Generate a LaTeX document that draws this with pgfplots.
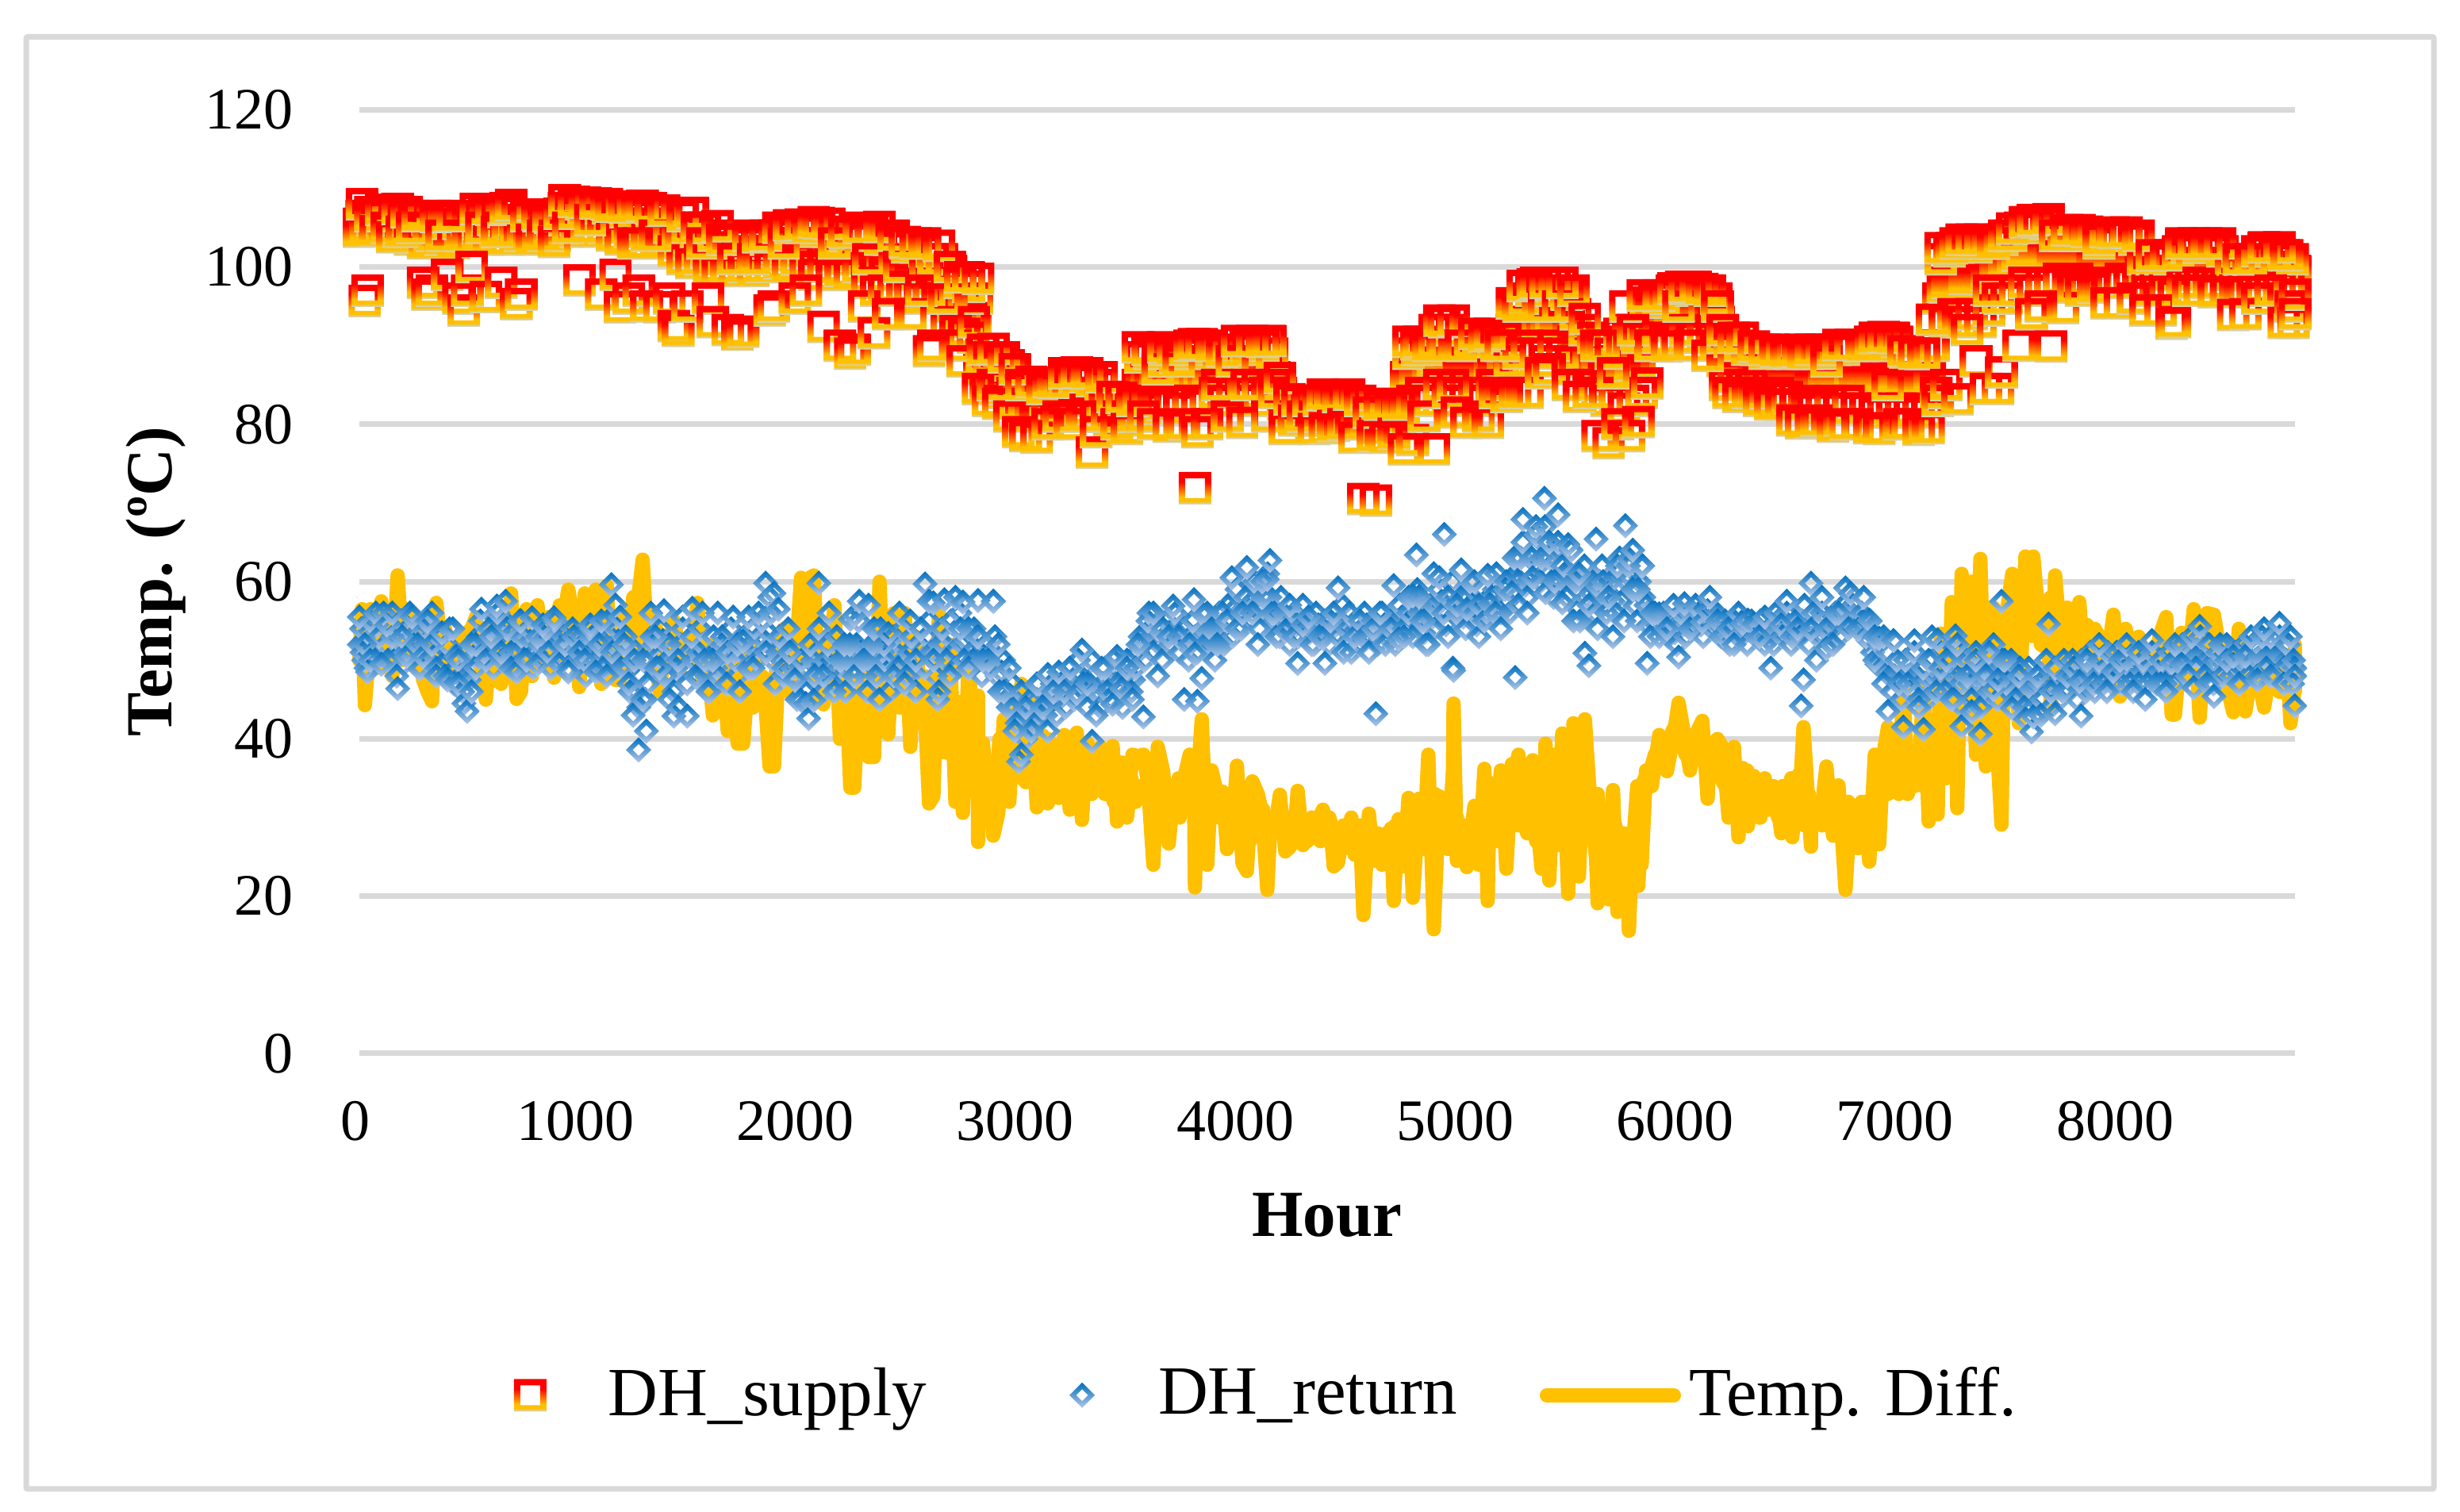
\documentclass[border=0pt]{standalone}
\usepackage{fontspec}
\setmainfont{Liberation Serif}
\usepackage{pgfplots}
\usepackage{pgfplotstable}
\pgfplotsset{compat=1.18}
\definecolor{gridc}{HTML}{D9D9D9}
\definecolor{diffc}{HTML}{FFC000}
\definecolor{gA}{HTML}{C9D8EA}
\definecolor{gB}{HTML}{FFC000}
\definecolor{gC}{HTML}{FF0000}
\definecolor{bA}{HTML}{B4C7E7}
\definecolor{bB}{HTML}{0070C0}
\pgfdeclareverticalshading{supsh}{100bp}{color(0bp)=(gA);color(25bp)=(gA);color(30bp)=(gB);color(36bp)=(gB);color(60bp)=(gC);color(75bp)=(gC);color(100bp)=(gC)}
\pgfdeclareverticalshading{retsh}{100bp}{color(0bp)=(bA);color(25bp)=(bA);color(75bp)=(bB);color(100bp)=(bB)}
\pgfdeclareplotmark{sup}{%
  \pgfsetcornersarced{\pgfpoint{1.5pt}{1.5pt}}%
  \pgfpathrectangle{\pgfpoint{-10.25pt}{-10.25pt}}{\pgfpoint{20.5pt}{20.5pt}}%
  \pgfsetcornersarced{\pgfpointorigin}%
  \pgfpathrectangle{\pgfpoint{-6.25pt}{-6.25pt}}{\pgfpoint{12.5pt}{12.5pt}}%
  \pgfseteorule
  \pgfshadepath{supsh}{0}%
  \pgfusepath{discard}%
}
\pgfdeclareplotmark{ret}{%
  \pgfpathmoveto{\pgfpoint{0pt}{8pt}}\pgfpathlineto{\pgfpoint{8pt}{0pt}}%
  \pgfpathlineto{\pgfpoint{0pt}{-8pt}}\pgfpathlineto{\pgfpoint{-8pt}{0pt}}\pgfpathclose
  \pgfpathmoveto{\pgfpoint{0pt}{3.75pt}}\pgfpathlineto{\pgfpoint{3.75pt}{0pt}}%
  \pgfpathlineto{\pgfpoint{0pt}{-3.75pt}}\pgfpathlineto{\pgfpoint{-3.75pt}{0pt}}\pgfpathclose
  \pgfseteorule
  \pgfshadepath{retsh}{0}%
  \pgfusepath{discard}%
}
\pgfplotsset{
  supleg/.style={legend image code/.code={\draw[mark repeat=2,mark phase=2,##1] plot coordinates {(0pt,-1.5pt)(10pt,-1.5pt)(20pt,-1.5pt)};}},
  retleg/.style={legend image code/.code={\draw[mark repeat=2,mark phase=2,##1] plot coordinates {(0pt,-1.5pt)(8pt,-1.5pt)(16pt,-1.5pt)};}},
  difleg/.style={legend image code/.code={\draw[##1] (4.4pt,-1.5pt) -- (84.6pt,-1.5pt);}},
}
\pgfplotstableread{
h s r
0 105.5 52
20 106 50
40 105 53.5
60 106 51
80 105.5 54.5
100 106 49.5
120 105.5 52
140 106 54.5
160 105 50
180 105.5 52.5
200 105 49.5
220 106 54
240 104.5 51
260 105.5 53.5
280 104 49
300 105.5 52
320 104 54.5
340 105.5 50.5
360 104.5 53
380 105.5 49.5
400 104.5 52
420 105 48.5
440 104.5 50.5
460 105 48
480 104 51
500 105 47.5
520 105 50.5
540 105.5 53
560 104.5 50
580 105.5 52.5
600 105 54
620 105.5 51
640 105 53.5
660 105.5 55
680 105 52
700 105.5 53.5
720 104.5 51
740 105 53
760 105 50.5
780 105.5 52.5
800 105 51
820 105.5 52
840 105 53
860 105.5 51
880 105 53
900 105.5 52
920 105.5 50.5
940 106 52
960 106 51
980 106.5 52
1000 106 50.5
1020 106.5 52
1040 106 50.5
1060 106.5 53
1080 106 51
1100 106.5 52.5
1120 106 50.5
1140 106 53
1160 105.5 52
1180 105 52.5
1200 105.5 50.5
1220 105.5 49
1240 105 51.5
1260 105 46
1280 105 48
1300 105.5 45
1320 105.5 50
1340 105 52
1360 105 50.5
1380 104.5 52.5
1400 104 50
1420 103.5 48
1440 103 49
1460 103 52
1480 102.5 49
1500 103 51
1520 102.5 50
1540 102.5 51
1560 102.5 52
1580 102 48
1600 102.5 50.5
1620 101.5 49
1640 101.5 50.5
1660 101.5 49
1680 102 52
1700 101 51
1720 101.5 48
1740 101.5 51
1760 101 51
1780 101.5 52
1800 101 51.5
1820 101.5 53
1840 102 52.5
1860 101.5 53.5
1880 102 50
1900 102.5 51
1920 102 50
1940 102.5 52
1960 102 51
1980 103 48
2000 103 47.5
2020 102.5 48.5
2040 102.5 49
2060 102 50
2080 102.5 51
2100 102.5 49
2120 102 50
2140 101.5 49
2160 102 50.5
2180 101.5 49
2200 101.5 48
2220 101 50
2240 101.5 50
2260 101.5 52
2280 101.5 51
2300 101 48
2320 101 50
2340 100.5 50
2360 100.5 52
2380 101 51
2400 100.5 48.5
2420 100.5 51
2440 100 51
2460 100 52
2480 99.5 50
2500 99.5 51
2520 99.5 48.5
2540 99 52
2560 99 51.5
2580 99 53
2600 99 51
2620 98.5 48
2640 98.5 52
2660 96 52
2680 96.5 53
2700 95 51
2720 95.5 54
2740 94 52
2760 94.5 52.5
2780 93 51
2800 93.5 51.5
2820 87 50
2840 87 50.5
2860 86.5 50
2880 86.5 51
2900 86.5 48
2920 86 48.5
2940 85.5 46
2960 85.5 45.5
2980 83.5 44
3000 83 43
3020 83.5 43
3040 83.5 43.5
3060 83 43
3080 83 45
3100 83 43
3120 83 43
3140 83.5 45
3160 83 45
3180 83 45
3200 83.5 46
3220 83.5 46.5
3240 83.5 47
3260 84 48
3280 83.5 48
3300 84 46
3320 83 47
3340 83.5 48
3360 83 46
3380 82.5 47
3400 82 47
3420 81.5 47.5
3440 82 48.5
3460 81.5 46
3480 82 48
3500 81.5 47.5
3520 82 47.5
3540 85 51
3560 85.5 52
3580 86 53.5
3600 85.5 53
3620 86 52.5
3640 85.5 52
3660 86.5 53
3680 85.5 53.5
3700 86 54
3720 85.5 53
3740 86.5 52.5
3760 86 52
3780 86.5 53
3800 86 53
3820 86.5 53.5
3840 86 54
3860 86.5 52.5
3880 86.5 52
3900 86.5 54
3920 86 54
3940 86.5 55
3960 86.5 55
3980 87 56.5
4000 86.5 56
4020 87 56
4040 87 56.5
4060 87 57.5
4080 86.5 56.5
4100 87 56.5
4120 87 58.5
4140 87 58
4160 86 55
4180 84 55
4200 82.5 56
4220 82 54
4240 82 54
4260 82 54.5
4280 81.5 55
4300 82 54
4320 82 53.5
4340 82 54
4360 81.5 54.5
4380 82 54
4400 82 53.5
4420 82 54
4440 81.5 54.5
4460 82 55
4480 82 54
4500 81.5 52.5
4520 82 53.5
4540 81.5 53.5
4560 81 54
4580 81 54.5
4600 81 54
4620 81 53.5
4640 81 54
4660 81 54.5
4680 81 54
4700 81 53.5
4720 81 55
4740 81 55.5
4760 86 54.5
4780 86 54.5
4800 86.5 57
4820 86.5 56
4840 86.5 53.5
4860 87 55.5
4880 88 55.5
4900 88.5 57
4920 88 57.5
4940 88 54.5
4960 88 58
4980 88 57
5000 87 56.5
5020 87 55.5
5040 87 58
5060 87 57
5080 87 54.5
5100 87 57
5120 87 57.5
5140 87.5 57
5160 87 59
5180 87 58.5
5200 88 57.5
5220 90 57.5
5240 92 60.5
5260 92 60.5
5280 92.5 63
5300 93 59.5
5320 93 60
5340 93 64
5360 93 62
5380 92.5 65
5400 93 61.5
5420 93.5 60
5440 93 64
5460 93 60
5480 93 61
5500 92.5 61
5520 90.5 60
5540 90 56.5
5560 88.5 60
5580 88 58
5600 88 58.5
5620 87.5 56
5640 87.5 60
5660 86.5 58
5680 86 58.5
5700 86 57.5
5720 87 61
5740 87 57.5
5760 87 60
5780 87.5 60.5
5800 87.5 57
5820 88 60
5840 92.5 58
5860 93 54.5
5880 93.5 55
5900 93.5 54.5
5920 93.5 55
5940 93.5 54.5
5960 94 54
5980 94 53.5
6000 94.5 55
6020 94.5 54.5
6040 94.5 55
6060 94 55
6080 94.5 55
6100 94.5 54.5
6120 94.5 55
6140 94 55
6160 93.5 55
6180 93 54.5
6200 88 54
6220 88 53.5
6240 88 54
6260 88 54
6280 87.5 54
6300 87.5 53.5
6320 87.5 54
6340 87 54
6360 86.5 54
6380 86.5 53.5
6400 86.5 53
6420 86.5 53
6440 86.5 54
6460 86.5 54
6480 86 55
6500 86 54
6520 86 53.5
6540 86 54
6560 86 55
6580 86 54.5
6600 85.5 54
6620 85.5 54.5
6640 85.5 55
6660 86 53
6680 86 53.5
6700 86 54.5
6720 86 55
6740 86 55
6760 86 56
6780 86.5 55
6800 86 55.5
6820 86 55
6840 86 55
6860 86 52.5
6880 86 51
6900 86 49.5
6920 86 49
6940 86 48.5
6960 86 48
6980 86 48
7000 86 47.5
7020 85.5 48
7040 85.5 48
7060 85.5 48
7080 85.5 48
7100 85.5 47
7120 85.5 47
7140 86 47.5
7160 90 48
7180 96 48.5
7200 97.5 47.5
7220 98 48
7240 98 47.5
7260 98 48
7280 98 47
7300 98.5 48
7320 98.5 47
7340 98.5 48
7360 98.5 47
7380 98.5 47.5
7400 99 48.5
7420 99 48.5
7440 100 47.5
7460 100 47.5
7480 100.5 48
7500 100.5 46.5
7520 101 47.5
7540 101.5 46.5
7560 102 46
7580 102 46
7600 102 46.5
7620 102 46.5
7640 102 47
7660 102 47.5
7680 102 47
7700 101.5 46.5
7720 101.5 47
7740 101.5 47.5
7760 101.5 48
7780 101.5 47.5
7800 101.5 47.5
7820 101.5 48
7840 101.5 47.5
7860 101.5 48
7880 101 48.5
7900 101 48.5
7920 101 48.5
7940 101 49
7960 101 49
7980 101 49
8000 101 49
8020 101 48.5
8040 101 49
8060 101 49
8080 101 49
8100 100 48.5
8120 99.5 48.5
8140 99.5 49
8160 99.5 49
8180 99.5 48.5
8200 99.5 48.5
8220 99.5 49
8240 99 49
8260 99 48.5
8280 100 50
8300 100.5 50
8320 100.5 50.5
8340 100.5 50.5
8360 100.5 50.5
8380 100.5 50.5
8400 100.5 50
8420 100.5 49.5
8440 100.5 49.5
8460 100.5 50
8480 100 49.5
8500 99.5 49.5
8520 99 49.5
8540 99 49.5
8560 99 49.5
8580 99 50
8600 99 50
8620 99.5 50
8640 100 50.5
8660 100 50.5
8680 100 50.5
8700 100 50.5
8720 100 50.5
8740 100 50.5
8760 100 50
8780 99.5 49.5
8800 99.5 49
}\middata
\pgfplotstableread{
h s r d
10 106.5 54 53
30 105 49 52
50 107 55 51
70 104.7 50 54
90 106 53 53
110 105 56 50
130 107 50 54
150 105 53 52
170 106.5 48 53
190 104 55 50
210 106 51 54
230 103.5 56 52
250 106.5 52 50
270 105 49 54
290 103 54 52
310 106 50 51
330 104 56 50
350 106.5 49 53
370 103.5 53 52
390 105.5 48 54
410 106.5 54 50
430 103 47 52
450 105.5 50 53
470 104 46 51
490 106 48 52
510 103.5 52 53
530 106.5 49 54
550 104 55 52
570 107 51 50
590 103.5 54 53
610 106 49 51
630 104.5 56 52
650 107 50 51
670 103.5 54 53
690 106 51 52
710 105 49 53
730 104 55 52
750 106 50 53
770 104 54 51
790 106.3 49 54
810 104 53 52
830 106 50 53
850 104.5 54 51
870 106.3 49 52
890 104 55 50
910 106 50 54
930 107.5 53 52
950 104.5 49 55
970 107.5 54 52
990 105 50 54
1010 108 53 52
1030 105 48 55
1050 107.5 54 52
1070 104.5 50 54
1090 107.5 52 54
1110 105 49 52
1130 107.5 55 51
1150 104 51 54
1170 107 54 50
1190 103.5 49 52
1210 107 53 53
1230 104.5 46 54
1250 107 50 52
1270 103 44 55
1290 106.5 50 54
1310 104 47 56
1330 107 53 52
1350 103.5 49 54
1370 106.5 54 50
1390 103 48 52
1410 105 52 53
1430 102 46 55
1450 104.5 50 52
1470 101 54 50
1490 105 47 52
1510 100.5 53 52
1530 104.5 48 54
1550 101 54 49
1570 105 50 51
1590 100 46 52
1610 104 53 50
1630 99.5 48 49
1650 103.5 52 50
1670 100 47 51
1690 103.5 54 47
1710 99.5 50 48
1730 103 46 50
1750 100 53 46
1770 103.5 49 47
1790 99.5 54 44
1810 103 50 46
1830 100 55 48
1850 103.5 51 45
1870 100 56 43
1890 104 47 48
1910 100.5 53 50
1930 104.5 48 50
1950 100 54 46
1970 104.5 49 49
1990 101 45 52
2010 105 50 54
2030 100 46 52
2050 104.5 52 53
2070 99 48 52
2090 105 54 47
2110 100 46 51
2130 104.5 52 51
2150 99 47 52
2170 103.5 53 46
2190 99.5 50 47
2210 104 46 50
2230 99 52 44
2250 103.5 48 46
2270 100 55 42
2290 104 50 48
2310 98 46 48
2330 104.5 52 47
2350 97 48 46
2370 103.5 54 43
2390 99 50 47
2410 103.5 46 52
2430 97.5 53 45
2450 103 49 47
2470 97 54 44
2490 102.5 48 50
2510 96.5 53 44
2530 102.5 46 50
2550 96 54 42
2570 102 49 48
2590 97 55 40
2610 101 50 46
2630 96 45 46
2650 101 54 42
2670 93 50 40
2690 99.5 55 38
2710 92 49 43
2730 98 56 36
2750 91.5 50 38
2770 97.5 54 40
2790 91 50 36
2810 96 53 38
2830 88.5 48 38
2850 84.5 52 32
2870 88.5 49 37
2890 85 53 30
2910 88 46 40
2930 84 50 33
2950 87.5 44 42
2970 84 47 36
2990 85 42 40
3010 81.5 46 35
3030 85 40 44
3050 82 45 36
3070 85 42 42
3090 81 47 33
3110 84.5 44 40
3130 82 41 40
3150 85 47 37
3170 81 43 37
3190 85 47 37
3210 86 44 38
3230 81.5 49 34
3250 86 45 36
3270 82 50 32
3290 86 47 38
3310 81 44 37
3330 85.5 50 33
3350 81 46 35
3370 85 44 39
3390 83 49 33
3410 80.5 45 34
3430 83 50 32
3450 81 47 33
3470 83 44 36
3490 80.5 50 30
3510 82.5 46 35
3530 81 49 32
3550 88.5 53 34
3570 82 50 33
3590 89 56 33
3610 83 51 31
3630 88 54 33
3650 82.5 50 32
3670 89 55 34
3690 83 52 31
3710 88.5 56 32
3730 82 51 30
3750 89 54 34
3770 83 50 31
3790 89.5 55 33
3810 82.5 51 28
3830 89 56 31
3850 83 52 29
3870 89.5 54 34
3890 84 50 33
3910 88.5 56 30
3930 83 52 31
3950 89 57 28
3970 84 53 30
3990 89.5 59 30
4010 83 54 31
4030 90 58 30
4050 84 55 27
4070 89.5 60 31
4090 83 54 29
4110 90 58 31
4130 84 61 26
4150 89 56 29
4170 85 53 30
4190 84 58 28
4210 81 55 28
4230 83 52 30
4250 81 56 27
4270 83 53 30
4290 80.5 57 28
4310 82.5 54 27
4330 81 52 30
4350 83 56 29
4370 80.5 53 27
4390 83 55 29
4410 81 52 30
4430 83 56 28
4450 80.5 53 28
4470 83.5 57 26
4490 81 54 27
4510 83 51 30
4530 80.5 55 26
4550 82.5 52 29
4570 80 56 25
4590 82 53 27
4610 79.5 55 26
4630 82 52 28
4650 80 56 24
4670 82 53 28
4690 79.5 55 26
4710 82 52 29
4730 80 57 24
4750 82 54 26
4770 89 56 27
4790 83 53 28
4810 89.5 59 26
4830 84 55 27
4850 89.5 52 32
4870 83 57 26
4890 92 54 33
4910 85 59 27
4930 92 56 30
4950 83 53 29
4970 92 60 28
4990 84 56 30
5010 90 58 26
5030 83 54 29
5050 90.5 60 27
5070 84 56 30
5090 90.5 53 31
5110 83 59 27
5130 90.5 56 29
5150 85 58 30
5170 90 61 27
5190 84 56 33
5210 91 59 30
5230 88 56 31
5250 95 63 31
5270 89 60 29
5290 96 65 30
5310 90 58 35
5330 97 63 33
5350 89 66 27
5370 97 60 36
5390 88 67 24
5410 97 63 34
5430 90 58 36
5450 97 65 30
5470 89 62 33
5490 96.5 58 37
5510 88 64 25
5530 94 60 33
5550 85 55 32
5570 92 62 28
5590 85 57 28
5610 91 60 31
5630 84 54 33
5650 90.5 62 26
5670 83 56 27
5690 89 60 28
5710 83 56 29
5730 91.5 63 27
5750 82 55 28
5770 92 62 26
5790 83 59 26
5810 91 55 34
5830 84 62 24
5850 95.5 57 36
5870 90 53 36
5890 96 56 38
5910 91 53 38
5930 96 56 39
5950 90.5 53 38
5970 97 55 41
5990 91 52 42
6010 97.5 56 40
6030 92 53 38
6050 97 56 39
6070 91 54 38
6090 97 56 39
6110 92 53 40
6130 97 56 38
6150 91 54 36
6170 96 56 36
6190 91 53 35
6210 85 55 34
6230 90.5 52 35
6250 86 55 32
6270 90 53 34
6290 85 55 31
6310 89.5 52 36
6330 85 55 31
6350 89.5 53 34
6370 84 55 30
6390 89 52 35
6410 83.5 54 31
6430 89.5 52 34
6450 84 55 30
6470 89 53 34
6490 83.5 56 29
6510 89 52 35
6530 82.5 55 30
6550 89.5 53 33
6570 83 57 29
6590 89 52 33
6610 82 56 30
6630 89 53 32
6650 82.5 56 29
6670 89 54 33
6690 83 52 32
6710 89.5 56 31
6730 82 53 32
6750 89.5 57 30
6770 83 54 32
6790 90 57 29
6810 82 54 29
6830 90 56 32
6850 82 53 30
6870 90.5 55 29
6890 81.5 50 34
6910 90 52 31
6930 82 47 36
6950 90 51 33
6970 81.5 46 38
6990 90.5 50 34
7010 82 45 38
7030 89 50 34
7050 81.5 46 36
7070 89 51 34
7090 82 45 37
7110 89 49 34
7130 81.5 45 37
7150 90 50 33
7170 84 46 36
7190 101 51 37
7210 93 46 44
7230 102 50 46
7250 94 45 50
7270 102.5 51 48
7290 93 44 52
7310 103 50 50
7330 94 45 54
7350 102.5 51 46
7370 93 44 56
7390 103 49 48
7410 94.5 46 52
7430 103 52 44
7450 96 45 50
7470 103.5 50 46
7490 96 47 50
7510 104 50 54
7530 97 45 54
7550 105 49 56
7570 98 44 58
7590 105 49 58
7610 97 44 60
7630 105.5 48 58
7650 98 45 56
7670 105.5 50 54
7690 98 44 58
7710 104 49 54
7730 98.5 45 54
7750 104 50 53
7770 98 46 56
7790 104 50 54
7810 98.5 45 56
7830 104 50 55
7850 98 46 54
7870 104 51 52
7890 98 46 54
7910 103 50 53
7930 98 47 52
7950 104 51 52
7970 98 47 54
7990 104 51 53
8010 98.5 47 52
8030 104 50 54
8050 98 47 52
8070 103.5 51 50
8090 98 47 52
8110 101 50 51
8130 97 47 50
8150 101 51 50
8170 97 47 50
8190 101 50 51
8210 97 47 50
8230 101 51 49
8250 96.5 47 48
8270 102 50 50
8290 98 52 47
8310 102.5 48 52
8330 98 53 48
8350 102.5 49 50
8370 98 53 48
8390 102.5 48 51
8410 98 52 50
8430 102.5 47 52
8450 98 51 50
8470 102 48 50
8490 97 52 47
8510 100.5 48 49
8530 97 51 47
8550 100.5 47 50
8570 97 52 46
8590 100.5 48 49
8610 97 52 47
8630 102 48 49
8650 97.5 53 46
8670 102 49 48
8690 97.5 53 47
8710 102 48 49
8730 97.5 53 46
8750 101.5 49 48
8770 98 52 47
8790 101 47 50
}\filldata
\pgfplotstableread{
h s r d
0 104.5 55.5 50
12 108 51 56.5
25 95.7 52 44.3
37 97 48.5 48.5
50 106.5 50 56.5
75 104.6 56 49
100 107.3 49.5 57.5
125 105 54.5 51
150 103.8 56 48
174 107.4 46.4 60.8
195 104.5 53 51.5
215 107 50.5 56.5
240 105 55.5 49.5
265 106.5 52 54.5
290 98 50.5 47.5
310 96.5 55 46
330 97 52 44.8
350 106.4 48 57.3
375 104 53.5 50.5
400 99 47.5 51.5
425 106.5 54 52.5
450 96 47 49
475 94.5 44.5 50
490 97 43.5 53.5
510 100 46 54
530 107.4 52 55.5
555 105 56.5 48.5
575 96.2 50 45
600 107.3 53 54.5
625 104.5 56.9 47.5
645 98 51 47
665 107.5 57.5 50
690 107.9 49 58.5
715 95.3 48.5 45.1
735 96.5 55 46
760 106.5 50 56.5
785 103.5 55.4 48
810 106.7 49.5 57
835 104 54.5 49.5
860 106.5 51 55.5
885 103.2 55.4 47.8
910 106.8 49.5 57
935 108.5 52 56.5
950 105 48.5 59
975 108.3 53 55
1000 98.3 51 46.6
1025 108.2 50 58.5
1050 106 54.5 51.5
1075 108.1 48.5 59
1100 96.5 55 47
1125 108 48 59.5
1146 107.7 59.6 48
1165 99 57 47.5
1185 94.9 55.5 47.5
1205 107.6 52 55.5
1225 96 47 49
1245 103 43 58
1270 97 38.6 58.4
1288 107.8 45 62.8
1305 95 41 54
1325 107.5 56 51.5
1345 104 53 51
1365 94.9 49 46
1385 107.2 56.3 50.9
1410 96 45 51
1430 92.5 42.9 50
1450 91.9 44 48
1470 106.5 55.5 51
1491 95 42.9 52
1514 106.9 56.6 50.3
1537 105 47.7 57.3
1560 103 56 47
1585 96 46 50
1607 93 50 43
1629 105.2 56 44
1650 103.5 53 50.5
1675 92 51 41
1700 101 55.5 45.5
1720 91.4 52 39.4
1745 91.8 52.4 39.4
1770 104 55.5 48.5
1790 101 49 52
1815 103.8 56 47.8
1847 104 59.8 44.2
1865 94.5 58 36.5
1885 95 58.5 36.5
1905 105 56.5 48.5
1930 103 49 54
1955 105.3 51 54.3
1980 96 47.5 48.5
2008 105.4 44.9 60.5
2030 97 44.5 52.5
2043 105 42.6 60.4
2066 105.7 44.9 60.8
2089 105.6 59.8 45.8
2110 92.4 48 44.4
2135 105.5 56 49.5
2160 103 46 57
2185 90 50 40
2205 104.4 52 52.4
2232 89 55.2 33.8
2250 89.5 55.7 33.8
2273 105 57.5 47.5
2295 95 50 45
2315 101 57 37.7
2340 91.6 54 37.7
2365 105.1 45 60
2385 97 52 45
2405 94 53.4 40.6
2430 104 48 56
2455 100 56 44
2480 103.2 47 56
2505 94 55 39
2530 103 50 53
2555 97 54 43
2572 103 59.7 43.3
2590 89.3 57.5 31.8
2610 90 57.3 32.7
2635 102.7 46 56
2660 96 57.7 38.3
2685 100 48 52
2710 90 58 32
2733 98.7 54 44.7
2744 88 57.4 30.6
2770 98.7 49 49.7
2795 93 54 39
2813 98.5 53 45.5
2813 84.5 57.6 26.9
2835 89.5 50 39.5
2860 83 50 33
2883 89.6 57.5 31
2882 85 57.5 27.7
2905 82.6 52 30.6
2930 88.5 46 42.5
2955 81 49 32
2980 87 41 46
2997 79 37.1 41.9
3010 85 38 47
3030 78.5 44 34.5
3055 85.4 41 44.4
3080 78.3 47 31.3
3105 84.5 44 40.5
3130 80 48.2 31.8
3155 85.3 46 39.3
3180 81 48.5 32.5
3205 86.5 46 40.5
3230 80 49 31
3262 86.6 45.8 40.8
3285 81 51.3 29.7
3310 86.5 47 39.5
3331 76.4 39.7 36.7
3350 79 43 36
3375 86 49 37
3400 81 46 35
3425 83.5 44.4 39.1
3445 80 50.5 29.5
3466 83.4 46.4 37
3490 79.4 49 30.4
3515 83 45 38
3540 89.8 52 37.8
3565 81 42.8 38
3585 89.5 55 34.5
3610 80 56 24
3630 87 48 39
3655 89.8 54 35.8
3680 79.7 53 26.7
3700 89.5 56.9 32.6
3725 88 53 35
3750 80 45 35
3775 90 52 38
3795 90.2 57.7 32.5
3799 71.9 50.8 21.1
3810 79 44.8 34.2
3830 90.2 47.7 42.5
3855 80 56 24
3875 90 54 36
3900 85 52 33
3925 89.3 56 33.3
3945 81 55 26
3967 88 60.5 27.5
3990 90.6 54 36.6
4015 80.2 56 24.2
4035 85 61.8 23.2
4060 90.6 56 34.6
4085 85 52 33
4105 90.5 60 30.5
4128 81 60.3 20.8
4140 90.6 62.7 27.9
4160 84 56 28
4185 85.9 53 32.9
4210 79.4 53.7 25.7
4230 83.2 57 26.2
4250 80.5 53 27.5
4266 83 49.6 33.4
4290 81 54.5 26.5
4315 83 55.5 27.5
4340 79.4 52 27.4
4365 83 53 30
4381 83.8 52.8 31
4390 79.5 49.6 29.9
4415 83.7 55 28.7
4430 79.8 56 23.8
4450 83.5 59.2 24.3
4475 80 51 29
4500 83.8 56 27.8
4525 78.3 53 25.3
4550 83 55 28
4565 70.5 52.9 17.6
4590 81.5 51 30.5
4610 78.5 54 24.5
4622 70.3 43.2 27.1
4640 82.5 56 26.5
4665 78.3 52 26.3
4690 82.6 54 28.6
4703 78.8 59.5 19.4
4725 82.5 52.7 29.8
4750 76.8 53 23.8
4770 90.5 58 32.5
4790 78 58.2 19.8
4806 90.2 63.4 26.8
4818 90.5 58.1 32.4
4840 81 55 26
4860 90 52 38
4885 76.8 61 15.8
4910 93.2 60.5 32.7
4933 93 66 27
4950 84 58 26
4972 85 49 35.9
4975 93.2 48.7 44.5
4990 81.5 57 24.5
5010 90 61.5 28.5
5035 80.2 56.5 23.7
5070 91.5 60 31.5
5090 81 57 24
5115 91.2 55 36.2
5130 80.2 60.8 19.4
5140 91.5 57.1 34.4
5165 84 56 28
5190 90 54 36
5215 83.5 60 23.5
5240 95.4 58.6 36.8
5255 84 47.8 36.2
5270 95 57 38
5290 97.6 67.9 29.7
5310 84 56 28
5335 97.8 60.5 37.3
5350 98 67 31
5375 86.5 63 23.5
5388 95 70.6 24.4
5393 98 58.6 39.4
5410 87 65 22
5435 98 60 38
5450 95 68.5 26.5
5469 98 57.3 40.7
5496 85 64.7 20.3
5520 97 55 42
5545 83.5 61 22.5
5572 93.4 50.9 42.5
5590 84 49.3 34.7
5623 90 65.4 24.6
5630 78.5 59.4 19.1
5655 90 60 30
5680 77.6 58 19.6
5700 86.5 53 33.5
5720 80 62 18
5756 95 67.1 27.9
5772 78.5 62.9 15.6
5790 92 64 28
5815 80.3 59 21.3
5835 96.4 62 34.4
5855 85.2 49.6 35.6
5876 90 56 34
5910 96.4 55.9 40.5
5945 89.9 54 35.9
5975 97.3 57 40.3
5998 95 50.4 44.6
6025 97.5 57.2 40.3
6050 90 54 36
6075 97.5 57 40.5
6106 97.2 54.9 42.3
6130 88.7 56.3 32.4
6140 97 58 39
6175 95 55 40
6200 92 53.2 38.8
6225 84 54 30
6250 91 52 39
6270 83.5 56 27.5
6290 91 54.7 36.3
6313 84 55.1 28.9
6340 89.9 54.6 35.3
6365 83 53 30
6390 89.5 55.5 34
6417 82.5 49 33.5
6440 89.3 56 33.3
6465 82.5 54.5 28
6490 89.2 57.5 31.7
6515 80.5 53 27.5
6540 89.3 54 35.3
6555 80.1 44.2 35.9
6566 89 47.5 41.5
6600 80.2 53.9 26.3
6600 89.5 59.8 29.7
6625 80.5 50 30.5
6650 89.5 58 31.5
6670 88 51.5 36.5
6700 79.7 52 27.7
6725 90.1 56 34.1
6757 80 59.2 20.8
6780 90.1 58.5 31.6
6814 80 53.9 26.1
6840 90 58 32
6865 79.5 55.1 24.4
6890 91 53 38
6910 79.4 52.8 26.6
6930 91.1 53 38.1
6950 85 43.5 41.5
6975 91 52.5 38.5
7000 80 47 33
7020 89.3 41.5 47.8
7040 80 47 33
7070 89 52.5 36.5
7090 79.3 44 35.3
7112 89 41.2 47.8
7135 79.5 50 29.5
7150 93.3 53 40.3
7176 83 52.6 30.4
7190 102.4 49 53.4
7215 85 50 35
7240 102.4 45 57.4
7257 103 53.1 49.9
7265 83.2 52 31.2
7285 103.5 41.6 61
7310 92 48 44
7330 103.5 43.5 60
7350 88 50 38
7370 103.5 40.6 62.9
7395 84.5 48 36.5
7410 97 51 46
7430 103 46.3 56.7
7450 84.5 47.5 37
7466 86.6 57.5 29.1
7480 104 50 54
7515 104.9 43.9 61
7545 90 48 42
7575 105.7 42.5 63.2
7603 94 40.9 53.1
7611 106 42.8 63.2
7645 95 43 52
7680 106.1 54.6 51.5
7691 89.9 46 43.9
7710 104 43.2 60.8
7745 94.8 46 48.8
7765 104.7 48 56.7
7795 97.4 49 48.4
7820 104.7 47.3 57.4
7828 97 42.9 54.1
7855 104.5 50 54.5
7885 97.4 47 50.4
7910 103.5 52 51.5
7945 95.4 46 49.4
7975 104.4 48.6 55.8
8005 95.4 50 45.4
8035 104.4 52 52.4
8065 96 46 50
8090 104 51 53
8120 94.5 45 49.5
8150 101.5 52.5 49
8190 94.5 47 53.5
8215 101.5 46 55.5
8240 92.8 49.7 43.1
8255 93 52 43.1
8285 103 49.5 53.5
8315 97 48 49
8340 103 46.5 56.5
8367 97 54.3 42.7
8400 103 47 56
8432 96.8 45.4 55.8
8460 103 52 51
8490 96.8 50 46.8
8520 93.9 50.5 43.4
8545 101 47 54
8575 94 50.5 43.5
8600 101 53 48
8630 96 47.5 48.5
8660 102.5 54 44
8690 97 48 49
8730 102.5 54.7 47.8
8750 92.9 47 45.9
8765 101.5 52 49.5
8780 95 53 42
8794 92.9 50 44.9
8800 96.5 44.2 52
8800 94 48 46
}\mydata
\begin{document}
\begin{tikzpicture}[x=1pt,y=1pt]
\path[fill=white] (0,0) rectangle (1550.5,953);
\useasboundingbox (0,0) rectangle (1550.5,953);
\draw[gridc,line width=3.5pt,rounded corners=1pt] (16.5,14.5) rectangle (1534,929.75);
\begin{axis}[
  at={(226.5pt,289pt)},anchor=south west,
  scale only axis,width=1220pt,height=594.75pt,
  xmin=0,xmax=8800,ymin=0,ymax=120,
  clip=false,
  axis line style={draw=none},
  major tick length=0pt,
  xtick={0,1000,...,8000},ytick={0,20,...,120},
  ymajorgrids,
  major grid style={gridc,line width=3.5pt},
  font=\fontsize{37}{40}\selectfont,
  tick label style={font=\fontsize{37}{40}\selectfont,inner sep=0pt},
  /pgf/number format/assume math mode=true,
  /pgf/number format/1000 sep={},
  xticklabel style={anchor=north,yshift=-30pt,xshift=-2.5pt},
  yticklabel style={anchor=east,xshift=-41.5pt},
  xlabel={\bfseries Hour},
  ylabel={\bfseries Temp. (ºC)},
  every axis x label/.style={at={(axis description cs:0.5,-0.1934)},anchor=base,font=\fontsize{41.5}{44}\selectfont},
  every axis y label/.style={at={(axis description cs:-0.0971,0.5)},rotate=90,anchor=base,font=\fontsize{41.5}{44}\selectfont},
  legend columns=3,
  legend cell align=left,
  legend style={draw=none,fill=none,inner sep=0pt,outer sep=0pt,
    at={(axis description cs:0.0799,-0.3597)},anchor=west,
    font=\fontsize{43.5}{46}\selectfont,
    nodes={inner sep=0pt,outer sep=0pt},
    /tikz/column 1/.style={column sep=39pt},
    /tikz/column 2/.style={column sep=90pt},
    /tikz/column 3/.style={column sep=40pt},
    /tikz/column 4/.style={column sep=52pt},
    /tikz/column 5/.style={column sep=5pt},
  },
]
\addlegendimage{only marks,mark=sup,supleg}
\addlegendentry{DH\_supply}
\addlegendimage{only marks,mark=ret,retleg}
\addlegendentry{DH\_return}
\addlegendimage{diffc,line width=8.8pt,line cap=round,difleg}
\addlegendentry{Temp. Diff.}
\addplot[forget plot,diffc,line width=9pt,line join=round,line cap=round] table[x=h,y=d] {\filldata};
\addplot[forget plot,diffc,line width=9pt,line join=round,line cap=round] table[x=h,y=d] {\mydata};
\addplot[forget plot,only marks,mark=sup] table[x=h,y=s] {\middata};
\addplot[forget plot,only marks,mark=sup] table[x=h,y=s] {\filldata};
\addplot[forget plot,only marks,mark=sup] table[x=h,y=s] {\mydata};
\addplot[forget plot,only marks,mark=ret] table[x=h,y=r] {\middata};
\addplot[forget plot,only marks,mark=ret] table[x=h,y=r] {\filldata};
\addplot[forget plot,only marks,mark=ret] table[x=h,y=r] {\mydata};
\end{axis}
\end{tikzpicture}
\end{document}
